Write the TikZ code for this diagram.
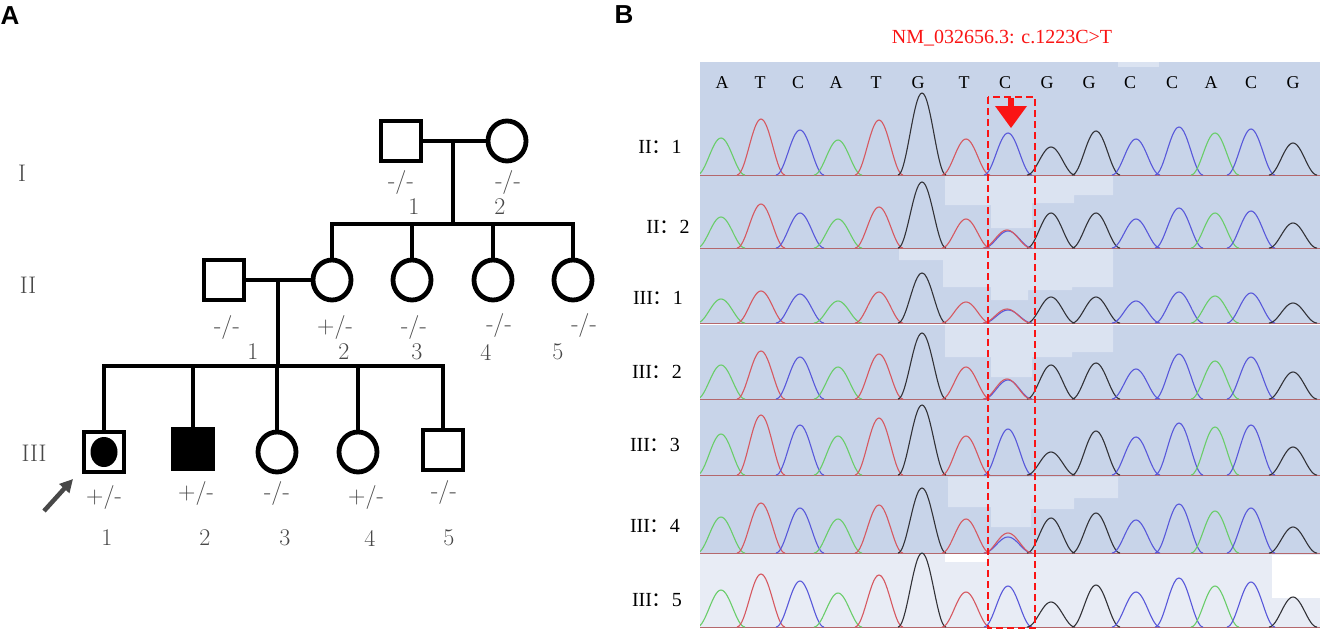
\documentclass[tikz,border=0pt]{standalone}
\usepackage{fontspec}
\newfontfamily\tnr{Liberation Serif}
\newfontfamily\hv{Liberation Sans}
\newfontfamily\cjk{Noto Sans CJK SC}
\usetikzlibrary{shapes.geometric,arrows.meta}
\definecolor{bgblue}{RGB}{200,212,233}
\definecolor{bglight}{RGB}{219,227,241}
\definecolor{bgrow}{RGB}{232,236,245}
\definecolor{pg}{RGB}{105,205,105}
\definecolor{pr}{RGB}{214,88,96}
\definecolor{pb}{RGB}{88,88,218}
\definecolor{pk}{RGB}{50,50,55}
\definecolor{lab}{RGB}{72,72,72}
\definecolor{mred}{RGB}{250,20,20}
\def\pxs{{721,761,800,838,879,922,966,1008,1051,1096,1136,1179,1215,1251,1293}}
\def\pcs{{"pg","pr","pb","pg","pr","pk","pr","pb","pk","pk","pb","pb","pg","pb","pk"}}
\newcommand\onepeak[4]{% x, height, colour, baseline
  \pgfmathsetmacro\xa{#1-24}\pgfmathsetmacro\xb{#1+24}%
  \draw[peakline,#3] plot[domain=\xa:\xb,samples=31,smooth] (\x,{#4-#2*(1+cos((\x-#1)*7.5))/2});}
\newcommand\chromrow[2]{%
  \foreach \hh [count=\ii from 0] in {#2}{%
    \pgfmathsetmacro\ppx{\pxs[\ii]}%
    \pgfmathparse{\pcs[\ii]}\edef\pcol{\pgfmathresult}%
    \onepeak{\ppx}{\hh}{\pcol}{#1}%
  }}
\begin{document}
\begin{tikzpicture}[x=1pt,y=-1pt,
  pline/.style={line width=4.8pt, line cap=rect},
  male/.style={draw, rectangle, minimum width=40pt, minimum height=40pt, inner sep=0pt, line width=4.8pt},
  female/.style={draw, ellipse, minimum width=38pt, minimum height=40pt, inner sep=0pt, line width=4.8pt},
  lbl/.style={text=lab, font=\fontsize{24}{26}\selectfont, inner sep=0pt},
  tlab/.style={font=\tnr\fontsize{20}{22}\selectfont, inner sep=0pt},
  nuc/.style={font=\tnr\fontsize{18}{20}\selectfont, inner sep=0pt},
  peakline/.style={line width=1.1pt},
  panel/.style={font=\hv\bfseries\fontsize{26}{28}\selectfont, inner sep=0pt},
]
\useasboundingbox (0,0) rectangle (1322,632);
\fill[white] (0,0) rectangle (1322,632);

% ---------- panel labels
\node[panel] (pA) at (10,16) {A};
\node[panel] (pB) at (624,15) {B};

% ---------- pedigree
\node[male]   (I1) at (401,141) {};
\node[female] (I2) at (507,141) {};
\node[male]   (II1) at (224,280) {};
\node[female] (II2) at (332,280) {};
\node[female] (II3) at (412,280) {};
\node[female] (II4) at (493,280) {};
\node[female] (II5) at (573,280) {};
\node[male]   (III1) at (104,452) {};
\node[fill, ellipse, minimum width=27pt, minimum height=30pt, inner sep=0pt] (III1d) at (III1) {};
\node[male, fill] (III2) at (193,449) {};
\node[female] (III3) at (277,452) {};
\node[female] (III4) at (358,452) {};
\node[male]   (III5) at (443,450) {};

\draw[pline] (I1) -- (I2);
\coordinate (m1) at (453,141);
\coordinate (s1) at (453,224);
\draw[pline] (m1) -- (s1);
\draw[pline] (II2 |- s1) -- (II5 |- s1);
\foreach \n in {II2,II3,II4,II5} \draw[pline] (\n |- s1) -- (\n.north);

\draw[pline] (II1) -- (II2);
\coordinate (m2) at (278,280);
\coordinate (s2) at (278,366);
\draw[pline] (m2) -- (s2);
\draw[pline] (III1 |- s2) -- (III5 |- s2);
\foreach \n in {III1,III2,III3,III4,III5} \draw[pline] (\n |- s2) -- (\n.north);

\coordinate (arT) at (44,511);
\coordinate (arH) at (73,479);
\draw[lab, line width=4.5pt, -{Triangle[length=13pt,width=13pt]}] (arT) -- (arH);

% generation labels
\node[lbl] (gI) at (22,173) {I};
\node[lbl] (gII) at (28,285) {II};
\node[lbl] (gIII) at (34,453) {III};

% genotypes and numbers
\node[lbl] (t11) at (401,182) {-/-};
\node[lbl] (t12) at (508,182) {-/-};
\node[lbl] (n11) at (414,207) {1};
\node[lbl] (n12) at (500,207) {2};

\node[lbl] (t21) at (227,327) {-/-};
\node[lbl] (t22) at (335,327) {+/-};
\node[lbl] (t23) at (414,327) {-/-};
\node[lbl] (t24) at (499,325) {-/-};
\node[lbl] (t25) at (584,325) {-/-};
\node[lbl] (n21) at (253,352) {1};
\node[lbl] (n22) at (344,352) {2};
\node[lbl] (n23) at (417,352) {3};
\node[lbl] (n24) at (486,352) {4};
\node[lbl] (n25) at (558,352) {5};

\node[lbl] (t31) at (104,497) {+/-};
\node[lbl] (t32) at (196,493) {+/-};
\node[lbl] (t33) at (277,493) {-/-};
\node[lbl] (t34) at (366,497) {+/-};
\node[lbl] (t35) at (444,492) {-/-};
\node[lbl] (n31) at (107,538) {1};
\node[lbl] (n32) at (205,538) {2};
\node[lbl] (n33) at (285,538) {3};
\node[lbl] (n34) at (370,538) {4};
\node[lbl] (n35) at (449,538) {5};

% ---------- chromatograms
\fill[bgblue] (700,62) rectangle (1320,627);
\fill[bglight] (1118,62) rectangle (1159,67);
\fill[bglight] (945,176) -- (1113,176) -- (1113,195) -- (1074,195) -- (1074,203) -- (1032,203) -- (1032,228) -- (991,228) -- (991,205) -- (945,205) -- cycle;
\fill[bglight] (899,248) -- (1113,248) -- (1113,287) -- (1072,287) -- (1072,290) -- (1028,290) -- (1028,300) -- (991,300) -- (991,287) -- (943,287) -- (943,260) -- (899,260) -- cycle;
\fill[bglight] (945,325) -- (1113,325) -- (1113,352) -- (1072,352) -- (1072,357) -- (1032,357) -- (1032,377) -- (991,377) -- (991,357) -- (945,357) -- cycle;
\fill[bglight] (948,477) -- (1118,477) -- (1118,498) -- (1074,498) -- (1074,509) -- (1031,509) -- (1031,527) -- (991,527) -- (991,507) -- (948,507) -- cycle;
\fill[bgrow] (700,553) rectangle (1320,627);
\fill[white] (945,553) rectangle (988,562);
\fill[white] (1272,555) rectangle (1320,598);
\foreach \yy in {175,248,323,399,475,553,627} \draw[pr!60!gray, line width=0.8pt] (700,\yy) -- (1320,\yy);
\draw[white, line width=1pt] (700,324.5) -- (1320,324.5);

\begin{scope}
\clip (700,60) rectangle (1320,628);
\chromrow{175}{37,56,45,35,55,82,36,42,28,44,36,48,42,46,32}
\chromrow{248}{31,44,35,29,41,66,29,17,35,35,29,40,35,37,25}
\onepeak{1007}{18}{pr}{248}
\chromrow{323}{24,32,29,22,31,50,21,13,26,26,22,31,27,30,20}
\onepeak{1007}{14}{pr}{323}
\chromrow{399}{34,48,42,32,45,66,32,19,34,36,30,45,38,42,27}
\onepeak{1007}{20}{pr}{399}
\chromrow{475}{41,60,50,39,57,70,39,46,23,44,38,52,48,50,28}
\chromrow{553}{36,50,45,34,48,65,34,16,35,40,33,49,42,45,26}
\onepeak{1008}{20}{pr}{553}
\chromrow{627}{37,53,46,34,52,74,35,41,25,42,35,49,41,45,30}
\end{scope}

% bases
\foreach \b/\xx [count=\k] in {A/722,T/760,C/798,A/836,T/876,G/918,T/964,C/1005,G/1047,G/1089,C/1130,C/1172,A/1211,C/1251,G/1293}
  \node[nuc] (base\k) at (\xx,83) {\b};

% mutation marks
\node[font=\tnr\fontsize{20}{22}\selectfont, text=mred, inner sep=0pt] (title) at (1002,38) {NM\_032656.3: c.1223C>T};
\draw[mred, line width=2.6pt, dash pattern=on 7pt off 4pt] (988,97) rectangle (1035,628);
\fill[mred] (1008,98) rectangle (1014,108);
\fill[mred] (995,106) -- (1027,106) -- (1011,128) -- cycle;

% row labels
\node[tlab] (r1) at (660,147) {II{\cjk ：}1};
\node[tlab] (r2) at (668,227) {II{\cjk ：}2};
\node[tlab] (r3) at (658,298) {III{\cjk ：}1};
\node[tlab] (r4) at (657,372) {III{\cjk ：}2};
\node[tlab] (r5) at (655,445) {III{\cjk ：}3};
\node[tlab] (r6) at (655,526) {III{\cjk ：}4};
\node[tlab] (r7) at (657,600) {III{\cjk ：}5};
\end{tikzpicture}
\end{document}
